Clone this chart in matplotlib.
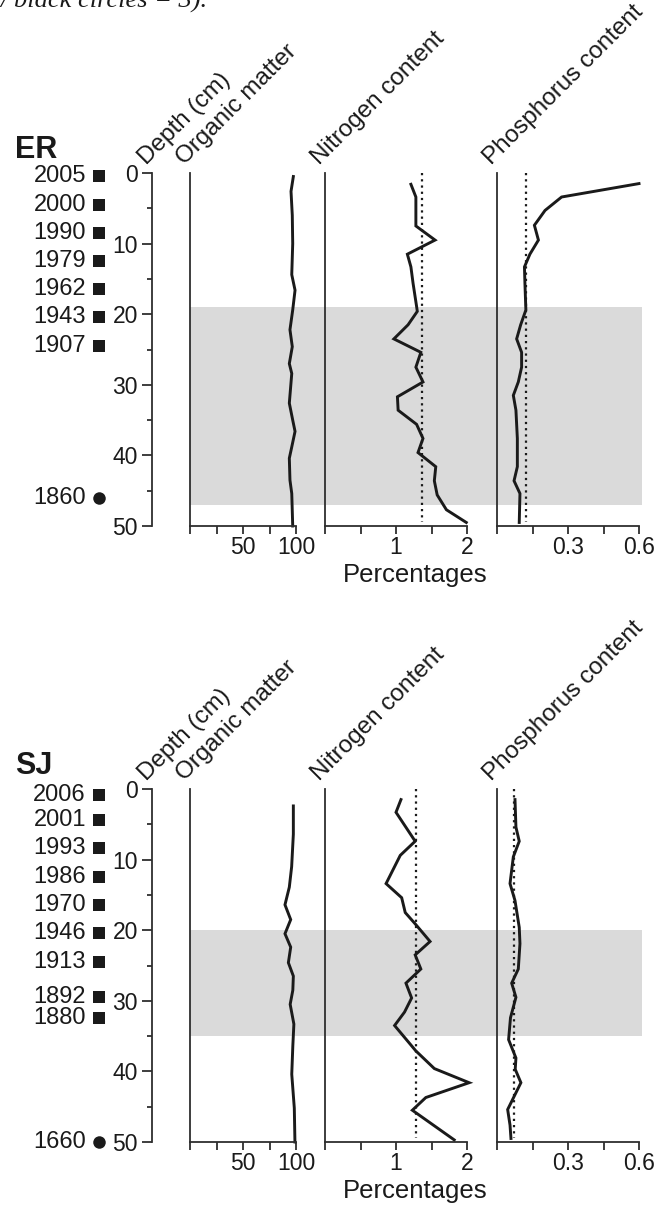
import matplotlib
matplotlib.use('Agg')
import matplotlib.pyplot as plt
from matplotlib.transforms import blended_transform_factory

plt.rcParams['font.family'] = ['Liberation Sans', 'DejaVu Sans']

W, H = 656, 1209
DPI = 100
PT = 72.0 / DPI  # points per pixel

# ---------------- ER core ----------------
er_years = ['2005', '2000', '1990', '1979', '1962', '1943', '1907', '1860']
er_year_depth = [0.4, 4.5, 8.5, 12.5, 16.5, 20.4, 24.5, 46.1]
er_year_marker = ['s', 's', 's', 's', 's', 's', 's', 'o']
er_band = (19, 47)

er_om_depth = [0.5, 2.6, 6.0, 10.0, 14.4, 16.6, 19.4, 22.2, 24.6, 27.0, 28.4,
               32.6, 35.0, 36.6, 38.8, 40.4, 43.5, 45.4, 50.0]
er_om = [97.5, 95.3, 96.5, 96.9, 96.0, 99.1, 96.9, 94.3, 96.5, 93.7, 96.0,
         93.7, 96.9, 99.1, 96.0, 93.7, 94.3, 96.0, 96.9]

er_n_depth = [1.6, 3.4, 7.5, 9.5, 11.5, 13.3, 15.6, 18.9, 19.6, 21.5, 23.5, 25.4,
              27.5, 29.6, 31.7, 33.6, 35.6, 37.6, 39.6, 41.6, 43.6, 45.6, 47.7, 49.5]
er_n = [1.21, 1.28, 1.28, 1.55, 1.16, 1.21, 1.24, 1.29, 1.30, 1.17, 0.97, 1.35,
        1.28, 1.38, 1.02, 1.03, 1.29, 1.38, 1.31, 1.56, 1.54, 1.58, 1.71, 1.99]
er_n_ref = 1.36

er_p_depth = [1.5, 3.4, 5.3, 7.4, 9.5, 11.5, 13.3, 15.6, 19.4, 21.5, 23.5, 25.4,
              27.5, 29.6, 31.5, 33.6, 37.6, 41.6, 43.6, 45.4, 49.5]
er_p = [0.600, 0.273, 0.203, 0.158, 0.175, 0.139, 0.116, 0.118, 0.122, 0.100, 0.083,
        0.104, 0.104, 0.090, 0.069, 0.080, 0.086, 0.086, 0.072, 0.097, 0.094]
er_p_ref = 0.121

# ---------------- SJ core ----------------
sj_years = ['2006', '2001', '1993', '1986', '1970', '1946', '1913', '1892', '1880', '1660']
sj_year_depth = [0.8, 4.4, 8.4, 12.5, 16.4, 20.4, 24.5, 29.5, 32.5, 50.0]
sj_year_marker = ['s', 's', 's', 's', 's', 's', 's', 's', 's', 'o']
sj_band = (20, 35)

sj_om_depth = [2.4, 6.4, 11.0, 13.9, 16.4, 18.5, 20.5, 22.4, 24.6, 26.5, 28.5,
               30.5, 33.3, 36.4, 40.4, 45.2, 50.0]
sj_om = [97.5, 97.5, 95.9, 93.7, 89.6, 95.0, 89.6, 95.0, 92.8, 97.5, 97.0,
         94.5, 98.0, 97.0, 96.0, 98.4, 99.0]

sj_n_depth = [1.5, 3.3, 7.4, 9.4, 13.4, 15.4, 17.5, 19.1, 21.6, 23.5, 25.5, 27.5,
              29.6, 31.6, 33.5, 37.1, 39.6, 41.6, 43.7, 45.5, 49.7]
sj_n = [1.07, 1.00, 1.27, 1.06, 0.86, 1.08, 1.13, 1.27, 1.48, 1.27, 1.35, 1.14,
        1.22, 1.12, 0.98, 1.28, 1.54, 2.03, 1.42, 1.23, 1.82]
sj_n_ref = 1.28

sj_p_depth = [1.5, 5.4, 7.4, 9.6, 13.4, 15.8, 19.6, 21.9, 25.5, 27.5, 29.5, 32.4,
              35.5, 38.1, 39.7, 41.6, 43.5, 45.4, 47.6, 49.5]
sj_p = [0.076, 0.080, 0.094, 0.069, 0.055, 0.076, 0.094, 0.097, 0.090, 0.062, 0.080,
        0.057, 0.049, 0.080, 0.077, 0.101, 0.073, 0.045, 0.055, 0.059]
sj_p_ref = 0.072

panel_titles = ['Organic matter', 'Nitrogen content', 'Phosphorus content']

SPINE = '#2e2e2e'
LINE = '#1a1a1a'
BAND = '#dadada'

fig = plt.figure(figsize=(W / DPI, H / DPI), dpi=DPI)


def px_ax(x0, x1, ytop, ybot):
    return fig.add_axes([x0 / W, 1 - ybot / H, (x1 - x0) / W, (ybot - ytop) / H])


def strip(ax, left=True, bottom=True):
    ax.patch.set_visible(False)
    for s in ['top', 'right']:
        ax.spines[s].set_visible(False)
    ax.spines['left'].set_visible(left)
    ax.spines['bottom'].set_visible(bottom)
    for s in ['left', 'bottom']:
        ax.spines[s].set_color(SPINE)
        ax.spines[s].set_linewidth(1.3)
    ax.set_ylim(50, 0)


def rot_title(ax, txt):
    ax.annotate(txt, xy=(0, 1), xycoords='axes fraction',
                xytext=(-6 * PT, 8 * PT), textcoords='offset points',
                rotation=45, rotation_mode='anchor', ha='left', va='baseline',
                fontsize=17.5, color='#1a1a1a', annotation_clip=False)


def draw_core(name, ytop, years, ydepth, ymark, band, om_d, om, n_d, n, n_ref,
              p_d, p, p_ref):
    ybot = ytop + 353

    # grey band behind the three panels
    bg = px_ax(190, 642, ytop, ybot)
    bg.set_xlim(0, 1)
    bg.set_ylim(50, 0)
    bg.axhspan(band[0], band[1], color=BAND, lw=0, zorder=0)
    bg.axis('off')

    # depth axis
    dax = px_ax(152, 180, ytop, ybot)
    strip(dax, left=True, bottom=False)
    dax.set_xticks([])
    dax.set_yticks([0, 10, 20, 30, 40, 50])
    dax.set_yticks([5, 15, 25, 35, 45], minor=True)
    dax.tick_params(axis='y', which='major', length=10 * PT, width=1.3,
                    color=SPINE, pad=4 * PT, labelsize=16.5, labelcolor='#1a1a1a')
    dax.tick_params(axis='y', which='minor', length=5 * PT, width=1.3, color=SPINE)
    rot_title(dax, 'Depth (cm)')

    # dated horizons
    tr = blended_transform_factory(fig.transFigure, dax.transData)
    for yr, d, m in zip(years, ydepth, ymark):
        dax.text(86 / W, d, yr, transform=tr, ha='right', va='center',
                 fontsize=17, color='#1a1a1a', clip_on=False)
        dax.plot([99 / W], [d], marker=m, color='#1a1a1a', ms=8.5 if m == 's' else 9,
                 mew=0, transform=tr, clip_on=False, linestyle='none')

    # panels
    specs = [
        (190, 296, (0, 100), [0, 25, 50, 75, 100], ['', '', '50', '', '100'],
         om_d, om, None),
        (325, 467, (0, 2), [0, 0.5, 1, 1.5, 2], ['', '', '1', '', '2'],
         n_d, n, n_ref),
        (497, 639, (0, 0.6), [0, 0.15, 0.3, 0.45, 0.6], ['', '', '0.3', '', '0.6'],
         p_d, p, p_ref),
    ]
    for (x0, x1, xl, ticks, labels, dd, vv, ref), title in zip(specs, panel_titles):
        ax = px_ax(x0, x1, ytop, ybot)
        strip(ax)
        ax.set_xlim(*xl)
        ax.set_xticks(ticks)
        ax.set_xticklabels(labels)
        ax.set_yticks([])
        ax.tick_params(axis='x', length=8 * PT, width=1.3, color=SPINE,
                       pad=2 * PT, labelsize=16.5, labelcolor='#1a1a1a')
        if ref is not None:
            ax.plot([ref, ref], [0, 49.5], color=LINE, lw=1.6,
                    linestyle=(0, (1, 1.8)), clip_on=False)
        ax.plot(vv, dd, color=LINE, lw=2.1, clip_on=False, solid_joinstyle='miter')
        rot_title(ax, title)

    fig.text(15 / W, 1 - (ytop - 15) / H, name, fontsize=22, fontweight='bold',
             ha='left', va='baseline', color='#1a1a1a')
    fig.text(415 / W, 1 - (ybot + 56) / H, 'Percentages', fontsize=18.5,
             ha='center', va='baseline', color='#1a1a1a')


draw_core('ER', 173, er_years, er_year_depth, er_year_marker, er_band,
          er_om_depth, er_om, er_n_depth, er_n, er_n_ref, er_p_depth, er_p, er_p_ref)
draw_core('SJ', 789, sj_years, sj_year_depth, sj_year_marker, sj_band,
          sj_om_depth, sj_om, sj_n_depth, sj_n, sj_n_ref, sj_p_depth, sj_p, sj_p_ref)

# caption line from the page above, cut by the top edge as in the source
fig.text(0, 1 - 8 / H, '/ black circles = 3).', family=['Liberation Serif', 'DejaVu Serif'],
         style='italic', fontsize=19, ha='left', va='baseline', color='#1a1a1a')

fig.savefig('out.png', dpi=DPI)
